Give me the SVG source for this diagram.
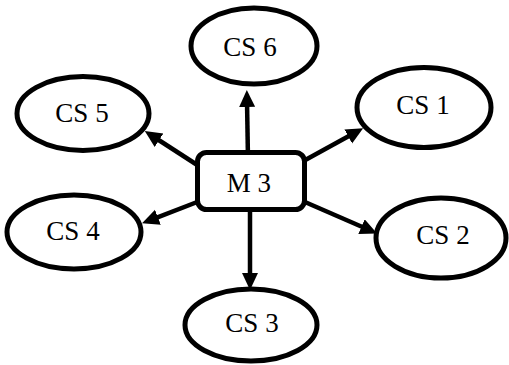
<svg xmlns="http://www.w3.org/2000/svg" width="509" height="365" viewBox="0 0 509 365">
  <style>
    .node { fill: #fff; stroke: #000; stroke-width: 5; }
    .label { font-family: "Liberation Serif", "Times New Roman", serif; font-size: 27px; fill: #000; text-anchor: middle; }
    .edge { stroke: #000; stroke-width: 4.5; fill: none; marker-end: url(#arrow); }
  </style>
  <defs>
    <marker id="arrow" markerUnits="userSpaceOnUse" markerWidth="20" markerHeight="18" refX="6" refY="8" orient="auto">
      <path d="M0,0 L17,8 L0,16 z" fill="#000"/>
    </marker>
  </defs>
  <rect width="509" height="365" fill="#fff"/>

  <!-- connectors from the hub to each satellite -->
  <g id="connectors">
    <line class="edge" x1="248" y1="160" x2="247" y2="101"/>
    <line class="edge" x1="205" y1="170" x2="154" y2="137"/>
    <line class="edge" x1="205" y1="199" x2="152.3" y2="219.4"/>
    <line class="edge" x1="298" y1="164" x2="353.5" y2="133.5"/>
    <line class="edge" x1="298" y1="199" x2="367" y2="229"/>
    <line class="edge" x1="250" y1="205" x2="250" y2="279"/>
  </g>

  <g id="M3">
    <rect class="node" x="197.5" y="152.5" width="107" height="57" rx="9"/>
    <text class="label" x="249" y="192">M 3</text>
  </g>
  <g id="CS6">
    <ellipse class="node" cx="254" cy="46" rx="63" ry="38"/>
    <text class="label" x="250" y="56">CS 6</text>
  </g>
  <g id="CS5">
    <ellipse class="node" cx="83" cy="113.5" rx="66" ry="37"/>
    <text class="label" x="82" y="122">CS 5</text>
  </g>
  <g id="CS4">
    <ellipse class="node" cx="74" cy="232" rx="67" ry="37"/>
    <text class="label" x="73" y="240">CS 4</text>
  </g>
  <g id="CS1">
    <ellipse class="node" cx="424" cy="107.5" rx="67" ry="40"/>
    <text class="label" x="423" y="114">CS 1</text>
  </g>
  <g id="CS2">
    <ellipse class="node" cx="441" cy="238" rx="65" ry="40"/>
    <text class="label" x="443" y="244">CS 2</text>
  </g>
  <g id="CS3">
    <ellipse class="node" cx="251" cy="325" rx="66" ry="36"/>
    <text class="label" x="252" y="332">CS 3</text>
  </g>
</svg>
